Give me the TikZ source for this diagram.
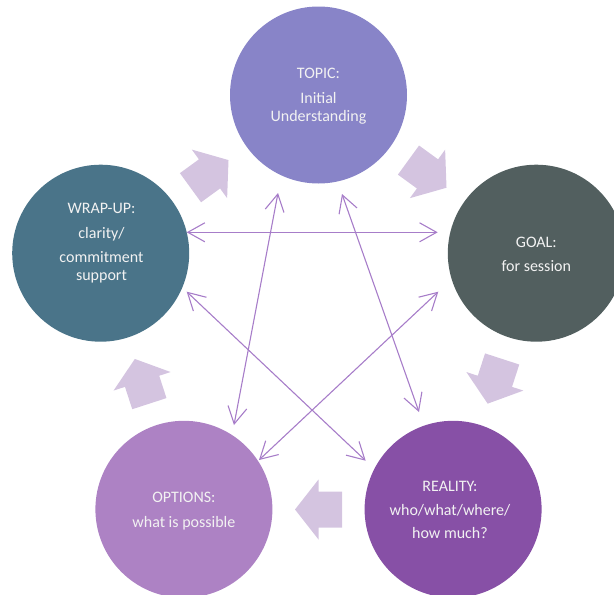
\documentclass[tikz,border=0pt]{standalone}
\usepackage{fontspec}
\setmainfont{Carlito}
\usetikzlibrary{arrows.meta,calc}

\definecolor{topicC}{HTML}{8884C8}
\definecolor{goalC}{HTML}{525F5F}
\definecolor{realityC}{HTML}{8750A6}
\definecolor{optionsC}{HTML}{AD82C4}
\definecolor{wrapC}{HTML}{4A7489}
\definecolor{flowC}{HTML}{D4C4E0}
\definecolor{linkC}{HTML}{A77DC9}
\definecolor{labelC}{HTML}{F2F2F2}

\begin{document}
\begin{tikzpicture}[x=1pt,y=-1pt,
  stage/.style={circle, minimum size=177pt, inner sep=0pt, draw=none},
  caption/.style={text=labelC, align=center, anchor=base, inner sep=0pt,
    font=\fontsize{16}{17.5}\selectfont},
  flow/.style={fill=flowC},
  link/.style={draw=linkC, line width=1.1pt,
    {Straight Barb[length=17pt,width=19pt]}-{Straight Barb[length=17pt,width=19pt]}}]

\useasboundingbox (0,0) rectangle (614,595);
\clip (0,0) rectangle (614,595);

% the five stages on a regular pentagon
\node[stage, fill=topicC]   (topic)   at (318.5,95)    {};
\node[stage, fill=goalC]    (goal)    at (536.3,253.2) {};
\node[stage, fill=realityC] (reality) at (453.1,509.3) {};
\node[stage, fill=optionsC] (options) at (183.9,509.3) {};
\node[stage, fill=wrapC]    (wrap)    at (100.7,253.2) {};

% stage labels (placed by the baseline of their last line)
\node[caption] (topic-txt) at (318.5,121) {TOPIC:\\[7.5pt]Initial\\Understanding};
\node[caption] (goal-txt) at (536.3,271) {GOAL:\\[6.5pt]for session};
\node[caption] (reality-txt) at (450,538) {REALITY:\\[6pt]who/what/where/\\[5.5pt]how much?};
\node[caption] (options-txt) at (183.9,527) {OPTIONS:\\[7pt]what is possible};
\node[caption] (wrap-txt) at (101.5,280) {WRAP-UP:\\[7.5pt]clarity/\\[6.5pt]commitment\\support};

% block arrows showing the clockwise flow
\foreach \cx/\cy/\ang in {209.5/173.9/36, 427.5/173.9/-36, 494.9/381.3/-108,
                          318.5/509.5/180, 142.1/381.3/108}{
  \fill[flow, shift={(\cx,\cy)}, rotate=\ang]
    (-23.5,-18) -- (0,-18) -- (0,-30) -- (23.5,0) -- (0,30) -- (0,18) -- (-23.5,18) -- cycle;
}

% end points of the cross links
\coordinate (wg-a) at ($(wrap)+(86,-20.9)$);
\coordinate (wg-b) at ($(goal)+(-98.6,-20.9)$);
\coordinate (to-a) at ($(topic)+(-40.5,98)$);
\coordinate (to-b) at ($(options)+(50.1,-84.3)$);
\coordinate (tr-a) at ($(topic)+(23.5,99)$);
\coordinate (tr-b) at ($(reality)+(-34.1,-97.3)$);
\coordinate (wr-a) at ($(wrap)+(86,38.5)$);
\coordinate (wr-b) at ($(reality)+(-87.4,-48.6)$);
\coordinate (go-a) at ($(goal)+(-98,38.5)$);
\coordinate (go-b) at ($(options)+(75.1,-49.3)$);

% cross links between non-adjacent stages
\draw[link] (wg-a) -- (wg-b);
\draw[link] (to-a) -- (to-b);
\draw[link] (tr-a) -- (tr-b);
\draw[link] (wr-a) -- (wr-b);
\draw[link] (go-a) -- (go-b);
\end{tikzpicture}
\end{document}
